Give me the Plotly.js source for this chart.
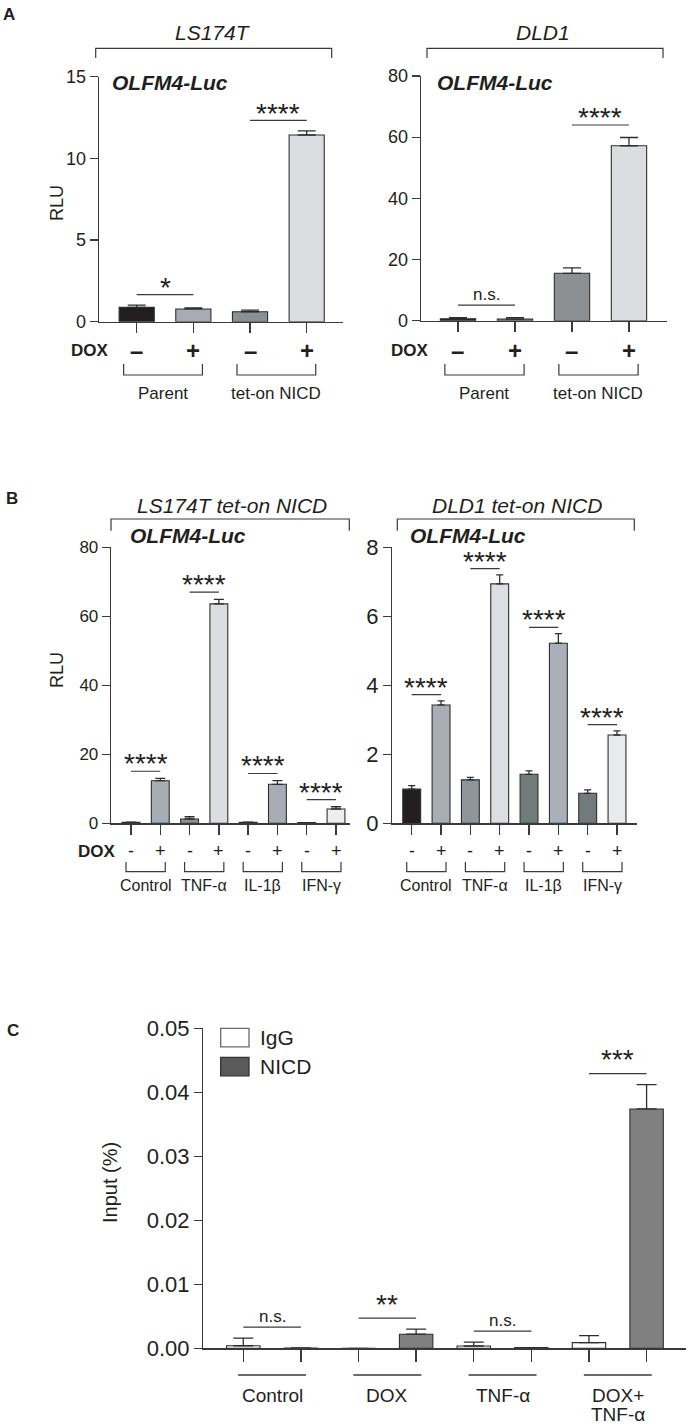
<!DOCTYPE html>
<html>
<head>
<meta charset="utf-8">
<script src="https://cdn.plot.ly/plotly-3.0.1.min.js"></script>
<style>html,body{margin:0;padding:0;background:#fff}#chart{width:688px;height:1424px}</style>
</head>
<body>
<div id="chart"></div>
<script>
// ================= DATA =================
// Panel A  (OLFM4-Luc, RLU)
const doxSignsA = ['–', '+', '–', '+'];
const cellGroupsA = ['Parent', 'tet-on NICD'];
const ls174tRLU = [0.88, 0.78, 0.61, 11.43];
const ls174tErr = [0.14, 0.06, 0.10, 0.25];
const dld1RLU = [0.6, 0.5, 15.5, 57.2];
const dld1Err = [0.4, 0.5, 1.8, 2.7];
const sigLS174T = ['*', '****'];
const sigDLD1 = ['n.s.', '****'];

// Panel B  (tet-on NICD + cytokines)
const doxSignsB = ['-', '+', '-', '+', '-', '+', '-', '+'];
const treatmentsB = ['Control', 'TNF-α', 'IL-1β', 'IFN-γ'];
const ls174tNicdRLU = [0.3, 12.35, 1.25, 63.6, 0.3, 11.3, 0.2, 4.15];
const ls174tNicdErr = [0, 0.65, 0.65, 1.3, 0, 1.05, 0, 0.65];
const dld1NicdRLU = [0.99, 3.43, 1.26, 6.94, 1.42, 5.22, 0.87, 2.56];
const dld1NicdErr = [0.1, 0.12, 0.07, 0.26, 0.1, 0.28, 0.1, 0.12];
const sigLS174TNicd = ['****', '****', '****', '****'];
const sigDLD1Nicd = ['****', '****', '****', '****'];

// Panel C  (ChIP, Input %)
const groupsC = ['Control', 'DOX', 'TNF-α', 'DOX+\nTNF-α'];
const seriesC = ['IgG', 'NICD'];
const iggInput = [0.0004, 0, 0.00036, 0.00088];
const iggErr = [0.0012, 0, 0.0006, 0.0011];
const nicdInput = [0.00005, 0.0022, 0.0001, 0.0374];
const nicdErr = [0, 0.0008, 0, 0.0038];
const sigC = ['n.s.', '**', 'n.s.', '***'];

// ================= STYLE / LAYOUT =================
const W = 688, H = 1424;
const X = v => v / W;
const Y = v => 1 - v / H;
const FONT = 'Liberation Sans, Arial, Helvetica, sans-serif';
const axisColor = '#3a3a3a';
const textColor = '#231f20';
const barLine = '#2e2e2e';

const colorsA = ['#231f20', '#a7abb2', '#8c9093', '#dcdde1'];
const colorsBL = ['#231f20', '#a8adb5', '#8e9295', '#dcdde0', '#737b7c', '#a8adb5', '#737b7c', '#eceef0'];
const colorsBR = ['#231f20', '#a9aeb6', '#8f9598', '#dddee2', '#727a7b', '#abb0b8', '#727a7b', '#e9eaec'];
const colorsC = ['#ffffff', '#808080'];
const legendFillC = ['#ffffff', '#5a5a5a'];

// pixel geometry of each plot area
const P = {
  aL: {n: '',  x0: 99,    x1: 343,   y0: 321.7,  y1: 76.7,   xr: [-0.665, 3.641], yr: [0, 15],   dtick: 5,    tick: 18, xtl: 10, bw: 0.62, cap: 9,   gap: 10.5, starLift: 10},
  aR: {n: '2', x0: 421,   x1: 667,   y0: 320.7,  y1: 76,     xr: [-0.649, 3.667], yr: [0, 80],   dtick: 20,   tick: 18, xtl: 10, bw: 0.62, cap: 9,   gap: 12.5, starLift: 10.5},
  bL: {n: '3', x0: 111,   x1: 350,   y0: 823.3,  y1: 547.3,  xr: [-0.683, 7.478], yr: [0, 80],   dtick: 20,   tick: 17, xtl: 10, bw: 0.61, cap: 5,   gap: 7.2,  starLift: 10.5},
  bR: {n: '4', x0: 392.3, x1: 636.7, y0: 823.3,  y1: 547.3,  xr: [-0.662, 7.671], yr: [0, 8],    dtick: 2,    tick: 22, xtl: 10, bw: 0.61, cap: 3.5, gap: 6.2,  starLift: 10.5},
  c:  {n: '5', x0: 203.3, x1: 686,   y0: 1348.3, y1: 1028.3, xr: [-0.694, 7.684], yr: [0, 0.05], dtick: 0.01, tick: 22, xtl: 12, bw: 0.58, cap: 10,  gap: 11,   starLift: 17, fmt: '.2f'}
};

const layout = {
  width: W, height: H,
  margin: {l: 0, r: 0, t: 0, b: 0},
  paper_bgcolor: '#ffffff', plot_bgcolor: 'rgba(0,0,0,0)',
  showlegend: false, barmode: 'overlay',
  font: {family: FONT, color: textColor},
  annotations: [], shapes: []
};
const traces = [];

function addAxes(p, nBars) {
  layout['xaxis' + p.n] = {
    domain: [X(p.x0), X(p.x1)], range: p.xr, anchor: 'y' + p.n,
    showline: true, linecolor: axisColor, linewidth: 1.3,
    ticks: 'outside', ticklen: p.xtl, tickwidth: 1.3, tickcolor: axisColor,
    tickmode: 'array', tickvals: [...Array(nBars).keys()], showticklabels: false,
    showgrid: false, zeroline: false, fixedrange: true
  };
  layout['yaxis' + p.n] = {
    domain: [Y(p.y0), Y(p.y1)], range: p.yr, anchor: 'x' + p.n,
    showline: true, linecolor: axisColor, linewidth: 1.3,
    ticks: 'outside', ticklen: 8, tickwidth: 1.3, tickcolor: axisColor,
    tick0: 0, dtick: p.dtick, tickformat: p.fmt || '',
    tickfont: {family: FONT, size: p.tick, color: textColor},
    showgrid: false, zeroline: false, fixedrange: true
  };
}

function addBars(p, xs, vals, errs, colors, name) {
  traces.push({
    type: 'bar', name: name, x: xs, y: vals, xaxis: 'x' + p.n, yaxis: 'y' + p.n,
    width: p.bw,
    marker: {color: colors, line: {color: barLine, width: 1.1}},
    error_y: {type: 'data', symmetric: false, array: errs, arrayminus: errs.map(() => 0),
              color: barLine, thickness: 1.3, width: p.cap},
    hoverinfo: 'skip'
  });
}

function addSig(p, i, j, top, text) {
  const ppu = (p.y0 - p.y1) / (p.yr[1] - p.yr[0]);
  const yL = top + p.gap / ppu;
  const isStar = text.indexOf('*') >= 0;
  layout.shapes.push({type: 'line', xref: 'x' + p.n, yref: 'y' + p.n, x0: i, x1: j, y0: yL, y1: yL,
                      line: {color: axisColor, width: 1.2}});
  layout.annotations.push({
    xref: 'x' + p.n, yref: 'y' + p.n, x: (i + j) / 2, y: yL, text: text, showarrow: false,
    yanchor: 'middle', xanchor: 'center',
    yshift: isStar ? p.starLift - 3 : 10.9,
    font: isStar ? {family: FONT, size: 28, color: textColor} : {family: FONT, size: 17, color: textColor}
  });
}

function paperText(x, y, text, size, opts) {
  layout.annotations.push(Object.assign({
    xref: 'paper', yref: 'paper', x: X(x), y: Y(y), text: text, showarrow: false,
    xanchor: 'center', yanchor: 'middle', font: {family: FONT, size: size, color: textColor}
  }, opts || {}));
}

function topBracket(x0, x1, y, yEnd) {
  layout.shapes.push({type: 'path', xref: 'paper', yref: 'paper',
    path: `M${X(x0)},${Y(yEnd)} L${X(x0)},${Y(y)} L${X(x1)},${Y(y)} L${X(x1)},${Y(yEnd)}`,
    line: {color: axisColor, width: 1.2}});
}

function bottomBracket(p, d0, d1, yTop, yBot) {
  layout.shapes.push({type: 'path', xref: 'x' + p.n, yref: 'paper',
    path: `M${d0},${Y(yTop)} L${d0},${Y(yBot)} L${d1},${Y(yBot)} L${d1},${Y(yTop)}`,
    line: {color: axisColor, width: 1.2}});
}

function tops(v, e) { return v.map((a, k) => a + e[k]); }

// ---------- Panel A ----------
function panelA(p, vals, errs, sigs, title, titleX, bracket, olfmX, doxX, showRLU) {
  addAxes(p, vals.length);
  const xs = vals.map((_, k) => k);
  addBars(p, xs, vals, errs, colorsA, title);
  const t = tops(vals, errs);
  sigs.forEach((s, g) => addSig(p, 2 * g, 2 * g + 1, Math.max(t[2 * g], t[2 * g + 1]), s));
  paperText(titleX, 32, '<i>' + title + '</i>', 21);
  topBracket(bracket[0], bracket[1], 48.3, 58);
  paperText(olfmX, 82, '<b><i>OLFM4-Luc</i></b>', 21, {xanchor: 'left'});
  paperText(doxX, 350, '<b>DOX</b>', 17);
  doxSignsA.forEach((s, k) => layout.annotations.push({
    xref: 'x' + p.n, yref: 'paper', x: k, y: Y(350), text: '<b>' + s + '</b>', showarrow: false,
    xanchor: 'center', yanchor: 'middle', font: {family: FONT, size: 24, color: textColor}}));
  cellGroupsA.forEach((gName, g) => {
    bottomBracket(p, 2 * g - 0.23, 2 * g + 1.16, 364, 375);
    layout.annotations.push({xref: 'x' + p.n, yref: 'paper', x: 2 * g + 0.465, y: Y(393), text: gName,
      showarrow: false, xanchor: 'center', yanchor: 'middle', font: {family: FONT, size: 17, color: textColor}});
  });
  if (showRLU) paperText(57, 203, 'RLU', 18, {textangle: -90});
}
panelA(P.aL, ls174tRLU, ls174tErr, sigLS174T, 'LS174T', 213, [95.7, 331.7], 110, 90, true);
panelA(P.aR, dld1RLU, dld1Err, sigDLD1, 'DLD1', 543, [427, 663], 435, 410, false);
paperText(9, 15, '<b>A</b>', 17);

// ---------- Panel B ----------
function panelB(p, vals, errs, colors, sigs, title, titleX, bracket, olfmX, showDox, showRLU) {
  addAxes(p, vals.length);
  const xs = vals.map((_, k) => k);
  addBars(p, xs, vals, errs, colors, title);
  const t = tops(vals, errs);
  sigs.forEach((s, g) => addSig(p, 2 * g, 2 * g + 1, Math.max(t[2 * g], t[2 * g + 1]), s));
  paperText(titleX, 505.5, '<i>' + title + '</i>', 21);
  topBracket(bracket[0], bracket[1], 519, 530.7);
  paperText(olfmX, 535, '<b><i>OLFM4-Luc</i></b>', 21, {xanchor: 'left'});
  if (showDox) paperText(96.5, 851, '<b>DOX</b>', 17);
  doxSignsB.forEach((s, k) => layout.annotations.push({
    xref: 'x' + p.n, yref: 'paper', x: k, y: Y(851), text: s, showarrow: false,
    xanchor: 'center', yanchor: 'middle', font: {family: FONT, size: 18, color: textColor}}));
  treatmentsB.forEach((tName, g) => {
    bottomBracket(p, 2 * g - 0.17, 2 * g + 1.17, 862, 871.7);
    layout.annotations.push({xref: 'x' + p.n, yref: 'paper', x: 2 * g + 0.5, y: Y(885), text: tName,
      showarrow: false, xanchor: 'center', yanchor: 'middle', font: {family: FONT, size: 16, color: textColor}});
  });
  if (showRLU) paperText(57, 670, 'RLU', 18, {textangle: -90});
}
panelB(P.bL, ls174tNicdRLU, ls174tNicdErr, colorsBL, sigLS174TNicd, 'LS174T tet-on NICD', 231.7, [111, 349.3], 128, true, true);
panelB(P.bR, dld1NicdRLU, dld1NicdErr, colorsBR, sigDLD1Nicd, 'DLD1 tet-on NICD', 516.7, [397.3, 634.3], 408, false, false);
paperText(12, 498, '<b>B</b>', 17);

// ---------- Panel C ----------
(function () {
  const p = P.c;
  addAxes(p, groupsC.length * 2);
  const xIgg = groupsC.map((_, g) => 2 * g);
  const xNicd = groupsC.map((_, g) => 2 * g + 1);
  addBars(p, xIgg, iggInput, iggErr, colorsC[0], seriesC[0]);
  addBars(p, xNicd, nicdInput, nicdErr, colorsC[1], seriesC[1]);
  const ti = tops(iggInput, iggErr), tn = tops(nicdInput, nicdErr);
  sigC.forEach((s, g) => addSig(p, 2 * g, 2 * g + 1, Math.max(ti[g], tn[g]), s));
  groupsC.forEach((gName, g) => {
    layout.shapes.push({type: 'line', xref: 'x' + p.n, yref: 'paper', x0: 2 * g - 0.09, x1: 2 * g + 1.09,
      y0: Y(1375), y1: Y(1375), line: {color: axisColor, width: 1.3}});
    gName.split('\n').forEach((line, li) => layout.annotations.push({
      xref: 'x' + p.n, yref: 'paper', x: 2 * g + 0.5, y: Y(1395 + li * 19), text: line, showarrow: false,
      xanchor: 'center', yanchor: 'middle', font: {family: FONT, size: 19, color: textColor}}));
  });
  // legend
  seriesC.forEach((sName, k) => {
    const yTop = 1028.3 + k * 29, yBot = yTop + 18.5;
    layout.shapes.push({type: 'rect', xref: 'paper', yref: 'paper', x0: X(220.7), x1: X(249), y0: Y(yBot), y1: Y(yTop),
      fillcolor: legendFillC[k], line: {color: k ? '#333333' : '#6a6a6a', width: 1.3}});
    paperText(258, (yTop + yBot) / 2, sName, 21, {xanchor: 'left'});
  });
  paperText(110, 1183, 'Input (%)', 20, {textangle: -90});
  paperText(13, 1030, '<b>C</b>', 17);
})();

Plotly.newPlot('chart', traces, layout, {staticPlot: true, displayModeBar: false});
</script>
</body>
</html>
